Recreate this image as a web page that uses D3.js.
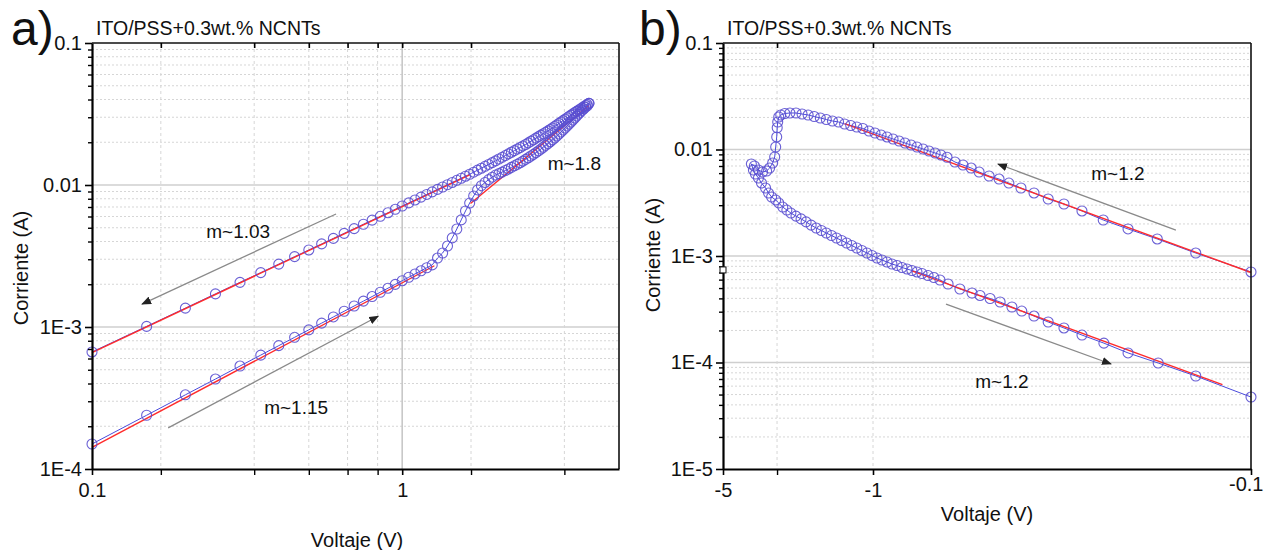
<!DOCTYPE html>
<html>
<head>
<meta charset="utf-8">
<script src="https://cdn.jsdelivr.net/npm/d3@7"></script>
<style>
  body { margin: 0; background: #fff; }
  svg text { font-family: "Liberation Sans", Arial, sans-serif; fill: #111; }
</style>
</head>
<body>
<svg width="1265" height="550"></svg>
<script>
// ---- panel a) : forward / reverse sweep, positive bias ----
const leftV = [0.1,0.15,0.2,0.25,0.3,0.35,0.4,0.45,0.5,0.55,0.6,0.65,0.7,0.75,0.8,0.85,0.9,0.95,1,1.05,1.1,1.15,1.2,1.25,
  1.3,1.35,1.4,1.45,1.5,1.55,1.6,1.65,1.7,1.75,1.8,1.85,1.9,1.95,2,2.05,2.1,2.15,2.2,2.25,2.3,2.35,2.4,2.45,2.5,2.55,
  2.6,2.65,2.7,2.75,2.8,2.85,2.9,2.95,3,3.05,3.1,3.15,3.2,3.25,3.3,3.35,3.4,3.45,3.5,3.55,3.6,3.65,3.7,3.75,3.8,3.85,
  3.9,3.95,4];
const leftFwdI = [1.50e-4,2.39e-4,3.33e-4,4.30e-4,5.31e-4,6.34e-4,7.39e-4,8.46e-4,9.55e-4,1.065e-3,1.177e-3,1.291e-3,
  1.406e-3,1.522e-3,1.639e-3,1.757e-3,1.876e-3,1.997e-3,2.118e-3,2.241e-3,2.364e-3,2.488e-3,2.613e-3,2.738e-3,
  3.06e-3,3.32e-3,3.72e-3,4.24e-3,4.90e-3,5.68e-3,6.56e-3,7.46e-3,8.37e-3,9.23e-3,9.89e-3,1.042e-2,1.091e-2,1.135e-2,
  1.175e-2,1.202e-2,1.233e-2,1.265e-2,1.297e-2,1.330e-2,1.365e-2,1.400e-2,1.435e-2,1.472e-2,1.514e-2,1.556e-2,
  1.600e-2,1.644e-2,1.690e-2,1.738e-2,1.791e-2,1.845e-2,1.901e-2,1.959e-2,2.018e-2,2.080e-2,2.143e-2,2.213e-2,
  2.286e-2,2.360e-2,2.438e-2,2.518e-2,2.600e-2,2.685e-2,2.773e-2,2.864e-2,2.958e-2,3.055e-2,3.155e-2,3.251e-2,
  3.350e-2,3.443e-2,3.532e-2,3.614e-2,3.758e-2];
const leftRevI = [6.67e-4,1.01e-3,1.358e-3,1.711e-3,2.063e-3,2.416e-3,2.773e-3,3.13e-3,3.488e-3,3.847e-3,4.207e-3,
  4.567e-3,4.929e-3,5.292e-3,5.655e-3,6.018e-3,6.38e-3,6.746e-3,7.112e-3,7.478e-3,7.845e-3,8.21e-3,8.58e-3,8.947e-3,
  9.31e-3,9.68e-3,1.005e-2,1.042e-2,1.079e-2,1.116e-2,1.153e-2,1.190e-2,1.231e-2,1.272e-2,1.313e-2,1.354e-2,1.396e-2,
  1.437e-2,1.479e-2,1.524e-2,1.567e-2,1.612e-2,1.657e-2,1.702e-2,1.747e-2,1.793e-2,1.837e-2,1.884e-2,1.929e-2,
  1.981e-2,2.032e-2,2.084e-2,2.138e-2,2.190e-2,2.244e-2,2.296e-2,2.350e-2,2.404e-2,2.458e-2,2.520e-2,2.584e-2,
  2.647e-2,2.711e-2,2.776e-2,2.841e-2,2.906e-2,2.973e-2,3.040e-2,3.107e-2,3.170e-2,3.234e-2,3.299e-2,3.364e-2,
  3.429e-2,3.495e-2,3.561e-2,3.627e-2,3.694e-2,3.758e-2];
// fitted lines: [start, end]
const leftFitV = [[0.1, 1.65], [0.1, 1.27], [1.66, 4.0]];
const leftFitI = [[6.6e-4, 1.18e-2], [1.42e-4, 2.70e-3], [7.4e-3, 3.63e-2]];
const leftXMajor = [0.1, 1];
const leftXLabels = ["0.1", "1"];
const leftXMinor = [0.1667, 0.3333, 0.5, 0.6667, 0.8333, 1.667, 3.333];
const leftYMajor = [1e-4, 1e-3, 1e-2, 1e-1];
const leftYLabels = ["1E-4", "1E-3", "0.01", "0.1"];
const leftNotes = [
  {text: "m~1.03", v: 0.296, i: 4.74e-3},
  {text: "m~1.15", v: 0.455, i: 2.73e-4},
  {text: "m~1.8", v: 3.59, i: 1.43e-2}
];
const leftArrows = [
  {v: [0.612, 0.145], i: [6.25e-3, 1.45e-3]},
  {v: [0.176, 0.837], i: [1.95e-4, 1.19e-3]}
];

// ---- panel b) : negative bias sweep ----
const rightV = [-0.1,-0.14,-0.177,-0.2115,-0.246,-0.28,-0.3125,-0.344,-0.375,-0.406,-0.437,-0.464,-0.493,-0.524,
  -0.55,-0.578,-0.607,-0.637,-0.661,-0.685,-0.711,-0.737,-0.765,-0.793,-0.823,-0.853,-0.885,-0.918,-0.952,-0.988,
  -1.044,-1.115,-1.19,-1.27,-1.356,-1.447,-1.545,-1.65,-1.76,-1.879,-2.006,-2.141,-2.285,-2.439,-2.576,-2.691,-2.75,
  -2.78,-2.795,-2.81,-2.841,-2.872,-2.935,-3.032,-3.132,-3.272,-3.418,-3.569,-3.688,
  -3.608,-3.531,-3.418,-3.308,-3.167,-3.066,-2.968,-2.841,-2.75,-2.633,-2.52,-2.413,-2.285,-2.164,-2.05,-1.942,
  -1.839,-1.741,-1.65,-1.562,-1.479,-1.401,-1.327,-1.257,-1.19,-1.127,-1.067,-1.011,-0.976,-0.947,-0.918,-0.891,
  -0.864,-0.838,-0.813,-0.789,-0.765,-0.742,-0.715,-0.69,-0.665,-0.633,-0.589,-0.547,-0.521,-0.49,-0.461,-0.429,
  -0.404,-0.375,-0.344,-0.3125,-0.28,-0.245,-0.2115,-0.176,-0.14,-0.1];
const rightI = [7.08e-4,1.066e-3,1.445e-3,1.795e-3,2.178e-3,2.648e-3,3.077e-3,3.428e-3,3.908e-3,4.35e-3,4.84e-3,
  5.28e-3,5.64e-3,6.15e-3,6.70e-3,7.15e-3,7.63e-3,8.45e-3,8.88e-3,9.27e-3,9.68e-3,1.011e-2,1.056e-2,1.102e-2,
  1.151e-2,1.202e-2,1.255e-2,1.311e-2,1.368e-2,1.429e-2,1.492e-2,1.575e-2,1.627e-2,1.680e-2,1.735e-2,1.812e-2,
  1.852e-2,1.913e-2,1.976e-2,2.041e-2,2.108e-2,2.154e-2,2.202e-2,2.202e-2,2.178e-2,2.108e-2,2.019e-2,1.812e-2,
  1.60e-2,1.311e-2,1.056e-2,8.50e-3,7.47e-3,6.70e-3,6.28e-3,6.15e-3,6.42e-3,7.00e-3,7.31e-3,
  6.42e-3,5.89e-3,5.40e-3,4.85e-3,4.35e-3,3.90e-3,3.58e-3,3.36e-3,3.15e-3,2.88e-3,2.70e-3,2.53e-3,2.37e-3,2.23e-3,
  2.09e-3,1.95e-3,1.83e-3,1.735e-3,1.644e-3,1.558e-3,1.476e-3,1.398e-3,1.325e-3,1.255e-3,1.189e-3,1.126e-3,
  1.067e-3,1.011e-3,9.58e-4,9.17e-4,8.78e-4,8.41e-4,8.14e-4,7.80e-4,7.55e-4,7.31e-4,7.08e-4,6.85e-4,6.56e-4,
  6.28e-4,5.95e-4,5.46e-4,4.90e-4,4.49e-4,4.26e-4,3.99e-4,3.70e-4,3.32e-4,3.04e-4,2.73e-4,2.40e-4,2.11e-4,
  1.81e-4,1.52e-4,1.23e-4,9.89e-5,7.47e-5,4.74e-5];
const rightFitV = [[-1.356, -0.1], [-0.789, -0.119]];
const rightFitI = [[1.75e-2, 7.0e-4], [7.25e-4, 6.2e-5]];
const rightXMajor = [-5, -1, -0.1];
const rightXLabels = ["-5", "-1", "-0.1"];
const rightXMinor = [-2.8];
const rightYMajor = [1e-5, 1e-4, 1e-3, 1e-2, 1e-1];
const rightYLabels = ["1E-5", "1E-4", "1E-3", "0.01", "0.1"];
const rightNotes = [
  {text: "m~1.2", v: -0.225, i: 6.02e-3},
  {text: "m~1.2", v: -0.456, i: 6.70e-5}
];
const rightArrows = [
  {v: [-0.158, -0.467], i: [1.75e-3, 7.31e-3]},
  {v: [-0.641, -0.2346], i: [3.54e-4, 9.68e-5]}
];

const svg = d3.select("svg");
const FONT = 20;

svg.append("defs").append("marker")
  .attr("id", "head")
  .attr("viewBox", "0 0 10 8")
  .attr("refX", 9).attr("refY", 4)
  .attr("markerWidth", 10).attr("markerHeight", 8)
  .attr("markerUnits", "userSpaceOnUse")
  .attr("orient", "auto")
  .append("path").attr("d", "M0,0 L10,4 L0,8 Z").attr("fill", "#222");

function isDecade(d) {
  let l = Math.log10(Math.abs(d));
  return Math.abs(l - Math.round(l)) < 1e-6;
}

function drawPanel(o) {
  let g = svg.append("g");
  let [x0, x1] = [o.left, o.right];
  let [yTop, yBot] = [o.top, o.bottom];

  // horizontal minor grid (dotted) and major grid (solid)
  let minorY = o.y.ticks().filter(d => !isDecade(d));
  g.selectAll(".hmin").data(minorY).join("line")
    .attr("x1", x0).attr("x2", x1)
    .attr("y1", d => o.y(d)).attr("y2", d => o.y(d))
    .attr("stroke", "#d6d6d6").attr("stroke-width", 1).attr("stroke-dasharray", "2,2");
  g.selectAll(".hmaj").data(o.yMajor.slice(1, -1)).join("line")
    .attr("x1", x0).attr("x2", x1)
    .attr("y1", d => o.y(d)).attr("y2", d => o.y(d))
    .attr("stroke", "#cfcfcf").attr("stroke-width", 1.6);

  // vertical grid
  g.selectAll(".vmin").data(o.xMinor.concat(o.xDashedMajor)).join("line")
    .attr("x1", d => o.x(d)).attr("x2", d => o.x(d))
    .attr("y1", yTop).attr("y2", yBot)
    .attr("stroke", "#d6d6d6").attr("stroke-width", 1).attr("stroke-dasharray", "3,3");
  g.selectAll(".vmaj").data(o.xSolidMajor).join("line")
    .attr("x1", d => o.x(d)).attr("x2", d => o.x(d))
    .attr("y1", yTop).attr("y2", yBot)
    .attr("stroke", "#c8c8c8").attr("stroke-width", 1.6);

  // data: connecting lines, fits, circles
  let line = d3.line().x(d => o.x(d[0])).y(d => o.y(d[1]));
  o.series.forEach(s => {
    let pts = s.v.map((v, k) => [v, s.i[k]]);
    g.append("path").attr("d", line(pts))
      .attr("fill", "none").attr("stroke", "#4b4bdc").attr("stroke-width", 1);
  });
  o.fitV.forEach((fv, k) => {
    g.append("path").attr("d", line([[fv[0], o.fitI[k][0]], [fv[1], o.fitI[k][1]]]))
      .attr("fill", "none").attr("stroke", "#ff2b2b").attr("stroke-width", 1.4);
  });
  o.series.forEach(s => {
    g.append("g").selectAll("circle").data(s.v.map((v, k) => [v, s.i[k]])).join("circle")
      .attr("cx", d => o.x(d[0])).attr("cy", d => o.y(d[1])).attr("r", 5)
      .attr("fill", "none").attr("stroke", "#5a4fd0").attr("stroke-width", 1.1)
      .attr("stroke-opacity", 0.9);
  });

  // arrows & slope labels
  o.arrows.forEach(a => {
    g.append("line")
      .attr("x1", o.x(a.v[0])).attr("y1", o.y(a.i[0]))
      .attr("x2", o.x(a.v[1])).attr("y2", o.y(a.i[1]))
      .attr("stroke", "#8a8a8a").attr("stroke-width", 1.3)
      .attr("marker-end", "url(#head)");
  });
  o.notes.forEach(n => {
    g.append("text").attr("x", o.x(n.v)).attr("y", o.y(n.i))
      .attr("dy", "0.35em").attr("text-anchor", "middle")
      .attr("font-size", 19).text(n.text);
  });

  // frame
  g.append("line").attr("x1", x0).attr("x2", x1).attr("y1", yTop).attr("y2", yTop)
    .attr("stroke", "#111").attr("stroke-width", 1.6);
  g.append("line").attr("x1", x1).attr("x2", x1).attr("y1", yTop).attr("y2", yBot)
    .attr("stroke", "#111").attr("stroke-width", 1.6);

  // left axis
  let ax = g.append("g").attr("transform", `translate(${x0},0)`)
    .call(d3.axisLeft(o.y).tickValues(o.yMajor).tickFormat((d, k) => o.yLabels[k])
      .tickSize(7).tickSizeOuter(0).tickPadding(3));
  g.append("g").attr("transform", `translate(${x0},0)`)
    .call(d3.axisLeft(o.y).tickValues(minorY).tickFormat("").tickSize(4).tickSizeOuter(0))
    .call(s => s.select(".domain").remove())
    .selectAll("line").attr("stroke-width", 1.4);
  ax.select(".domain").attr("stroke-width", 2.2);
  ax.selectAll("line").attr("stroke-width", 1.6);
  ax.selectAll("text").attr("font-size", FONT).attr("fill", "#111");

  // bottom axis (axis scale works on tick values mapped by o.tv)
  let bx = g.append("g").attr("transform", `translate(0,${yBot})`)
    .call(d3.axisBottom(o.xAxis).tickValues(o.xMajor.map(o.tv)).tickFormat((d, k) => o.xLabels[k])
      .tickSize(6).tickSizeOuter(0).tickPadding(8));
  bx.select(".domain").attr("stroke-width", 2.2);
  bx.selectAll("line").attr("stroke-width", 1.6);
  bx.selectAll("text").attr("font-size", FONT).attr("fill", "#111");
  o.fixBottom(bx);
  g.append("g").attr("transform", `translate(0,${yBot})`)
    .call(d3.axisBottom(o.xAxis).tickValues(o.xMinor.map(o.tv)).tickFormat("").tickSize(6).tickSizeOuter(0))
    .call(s => s.select(".domain").remove())
    .selectAll("line").attr("stroke-width", 1.4);

  // top axis: inward ticks
  g.append("g").attr("transform", `translate(0,${yTop})`)
    .call(d3.axisBottom(o.xAxis).tickValues(o.xMinor.concat(o.xTopMajor).map(o.tv)).tickFormat("")
      .tickSize(5).tickSizeOuter(0))
    .call(s => s.select(".domain").remove())
    .selectAll("line").attr("stroke-width", 1.6);

  // texts
  g.append("text").attr("x", o.tagX).attr("y", 45).attr("font-size", 48).text(o.tag);
  g.append("text").attr("x", x0 + 4).attr("y", 35).attr("font-size", 19.5).text("ITO/PSS+0.3wt.% NCNTs");
  g.append("text").attr("transform", `translate(${o.yTitleX},${o.yTitleY}) rotate(-90)`)
    .attr("text-anchor", "middle").attr("font-size", FONT).text("Corriente (A)");
  g.append("text").attr("x", o.xTitleX).attr("y", o.xTitleY)
    .attr("text-anchor", "middle").attr("font-size", FONT).text("Voltaje (V)");
}

// panel a
const xA = d3.scaleLog().domain([0.1, 5]).range([92, 619]);
const yA = d3.scaleLog().domain([1e-4, 0.1]).range([469, 43]);
drawPanel({
  left: 92, right: 619, top: 43, bottom: 469,
  x: xA, xAxis: xA, tv: d => d, y: yA,
  xMajor: leftXMajor, xLabels: leftXLabels, xMinor: leftXMinor,
  xSolidMajor: [1], xDashedMajor: [], xTopMajor: [1],
  yMajor: leftYMajor, yLabels: leftYLabels,
  series: [{v: leftV, i: leftFwdI}, {v: leftV, i: leftRevI}],
  fitV: leftFitV, fitI: leftFitI,
  notes: leftNotes, arrows: leftArrows,
  fixBottom: () => {},
  tag: "a)", tagX: 11,
  yTitleX: 28, yTitleY: 268, xTitleX: 357, xTitleY: 547
});

// panel b: |V| on a log axis, piecewise to follow the original axis
const xAbs = d3.scaleLog().domain([5, 1, 0.1]).range([723, 873, 1251]);
const xB = v => xAbs(Math.abs(v));
const yB = d3.scaleLog().domain([1e-5, 0.1]).range([469, 43]);
drawPanel({
  left: 723, right: 1251, top: 43, bottom: 469,
  x: xB, xAxis: xAbs, tv: d => Math.abs(d), y: yB,
  xMajor: rightXMajor, xLabels: rightXLabels, xMinor: rightXMinor,
  xSolidMajor: [], xDashedMajor: [-1], xTopMajor: [-1],
  yMajor: rightYMajor, yLabels: rightYLabels,
  series: [{v: rightV, i: rightI}],
  fitV: rightFitV, fitI: rightFitI,
  notes: rightNotes, arrows: rightArrows,
  fixBottom: bx => bx.selectAll(".tick").filter(d => d === 0.1).select("text")
    .attr("text-anchor", "end").attr("dx", 12).attr("dy", "0.4em"),
  tag: "b)", tagX: 639,
  yTitleX: 660, yTitleY: 255, xTitleX: 987, xTitleY: 521
});

// small square marker on the b) left axis
svg.append("rect")
  .attr("x", xB(-5) - 3).attr("y", yB(7.4e-4) - 3)
  .attr("width", 6).attr("height", 6)
  .attr("fill", "#fff").attr("stroke", "#111").attr("stroke-width", 1);
</script>
</body>
</html>
